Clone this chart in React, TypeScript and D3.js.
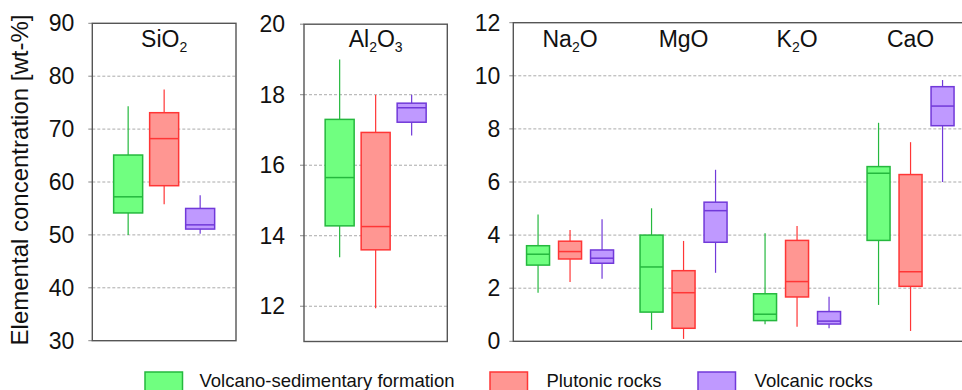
import React from "react";
import * as d3 from "d3";

const seriesNames = ["Volcano-sedimentary formation", "Plutonic rocks", "Volcanic rocks"];
const seriesKeys = ["vs", "pl", "vo"];
const fillColors = ["#70ff80", "#ff9692", "#bf99ff"];
const strokeColors = ["#25b83e", "#ff3636", "#7139d9"];

// [min, q1, median, q3, max] per series
const sio2 = [
  [50.0, 54.15, 57.2, 65.1, 74.3],
  [55.8, 59.3, 68.2, 73.1, 77.5],
  [50.2, 51.1, 51.9, 55.0, 57.5],
];
const al2o3 = [
  [13.39, 14.28, 15.65, 17.3, 19.0],
  [11.94, 13.6, 14.26, 16.93, 18.0],
  [16.84, 17.22, 17.63, 17.76, 18.0],
];
const majorCats = ["Na2O", "MgO", "K2O", "CaO"];
const na2o = [
  [1.83, 2.87, 3.28, 3.6, 4.78],
  [2.23, 3.1, 3.38, 3.77, 4.19],
  [2.36, 2.94, 3.13, 3.44, 4.6],
];
const mgo = [
  [0.43, 1.1, 2.8, 4.0, 5.01],
  [0.09, 0.49, 1.83, 2.66, 3.78],
  [2.58, 3.73, 4.92, 5.24, 6.46],
];
const k2o = [
  [0.64, 0.78, 1.02, 1.79, 4.07],
  [0.55, 1.67, 2.25, 3.8, 4.34],
  [0.49, 0.65, 0.76, 1.12, 1.68],
];
const cao = [
  [1.37, 3.8, 6.33, 6.58, 8.23],
  [0.39, 2.07, 2.62, 6.28, 7.5],
  [6.0, 8.12, 8.86, 9.59, 9.84],
];
const majorData = [na2o, mgo, k2o, cao];

const sio2Ticks = [30, 40, 50, 60, 70, 80, 90];
const al2o3Ticks = [12, 14, 16, 18, 20];
const majorTicks = [0, 2, 4, 6, 8, 10, 12];

const FONT = "Liberation Sans, Arial, Helvetica, sans-serif";
const FRAME = "#555";
const GRID = "#aaa";

type Box = number[];

function BoxMark({ cx, w, y, b, i }: { cx: number; w: number; y: d3.ScaleLinear<number, number>; b: Box; i: number }) {
  const [mn, q1, md, q3, mx] = b;
  return (
    <g>
      <line x1={cx} x2={cx} y1={y(mx)} y2={y(q3)} stroke={strokeColors[i]} strokeWidth={1.2} />
      <line x1={cx} x2={cx} y1={y(q1)} y2={y(mn)} stroke={strokeColors[i]} strokeWidth={1.2} />
      <rect x={cx - w / 2} y={y(q3)} width={w} height={y(q1) - y(q3)} fill={fillColors[i]} stroke={strokeColors[i]} strokeWidth={1.5} />
      <line x1={cx - w / 2} x2={cx + w / 2} y1={y(md)} y2={y(md)} stroke={strokeColors[i]} strokeWidth={1.5} />
    </g>
  );
}

function Frame({ x0, x1, y, ticks, labelGap }: { x0: number; x1: number; y: d3.ScaleLinear<number, number>; ticks: number[]; labelGap: number }) {
  const [d0, d1] = y.domain();
  return (
    <g>
      {ticks.map((t) =>
        t > d0 && t < d1 ? (
          <line key={"g" + t} x1={x0} x2={x1} y1={y(t)} y2={y(t)} stroke={GRID} strokeWidth={1} strokeDasharray="3,2" />
        ) : null
      )}
      {ticks.map((t) => (
        <line key={"t" + t} x1={x0 - 4} x2={x0} y1={y(t)} y2={y(t)} stroke="#888" strokeWidth={1} />
      ))}
      <rect x={x0} y={y(d1)} width={x1 - x0} height={y(d0) - y(d1)} fill="none" stroke={FRAME} strokeWidth={1.4} />
      {ticks.map((t) => (
        <text key={"l" + t} x={x0 - labelGap} y={y(t)} textAnchor="end" dominantBaseline="central" fontSize={23} fontFamily={FONT} fill="#111">
          {t}
        </text>
      ))}
    </g>
  );
}

function Formula({ x, y, parts }: { x: number; y: number; parts: [string, boolean][] }) {
  return (
    <text x={x} y={y} textAnchor="middle" fontSize={23} fontFamily={FONT} fill="#111">
      {parts.map(([s, sub], k) => (
        <tspan key={k} fontSize={sub ? 14 : 23} dy={sub ? 5 : k > 0 && parts[k - 1][1] ? -5 : 0}>
          {s}
        </tspan>
      ))}
    </text>
  );
}

const labelParts: Record<string, [string, boolean][]> = {
  SiO2: [["SiO", false], ["2", true]],
  Al2O3: [["Al", false], ["2", true], ["O", false], ["3", true]],
  Na2O: [["Na", false], ["2", true], ["O", false]],
  MgO: [["MgO", false]],
  K2O: [["K", false], ["2", true], ["O", false]],
  CaO: [["CaO", false]],
};

export default function App() {
  // Panel 1: SiO2
  const p1 = { x0: 92.3, x1: 236 };
  const y1 = d3.scaleLinear().domain([30, 90]).range([340.7, 23.3]);
  const c1 = (p1.x0 + p1.x1) / 2;
  const s1 = d3.scalePoint<string>().domain(seriesKeys).range([c1 - 36, c1 + 36]);

  // Panel 2: Al2O3
  const p2 = { x0: 304, x1: 447.3 };
  const y2 = d3.scaleLinear().domain([11, 20]).range([341.5, 24.2]);
  const c2 = (p2.x0 + p2.x1) / 2;
  const s2 = d3.scalePoint<string>().domain(seriesKeys).range([c2 - 36, c2 + 36]);

  // Panel 3: majors
  const p3 = { x0: 513.3, x1: 967.3 };
  const y3 = d3.scaleLinear().domain([0, 12]).range([341.3, 22.7]);
  const g3 = d3.scaleBand<string>().domain(majorCats).range([p3.x0, p3.x1]);
  const s3 = d3.scalePoint<string>().domain(seriesKeys).range([-32, 32]);

  const legendX = [145, 490, 698];
  const legendTextX = [199.5, 546.4, 754.6];

  return (
    <svg width={962} height={390} style={{ position: "absolute", left: 0, top: 0, background: "#fff" }}>
      <rect x={0} y={0} width={962} height={390} fill="#fff" />
      <text transform="translate(28,180) rotate(-90)" textAnchor="middle" fontSize={24} fontFamily={FONT} fill="#111">
        Elemental concentration [wt-%]
      </text>

      <Frame x0={p1.x0} x1={p1.x1} y={y1} ticks={sio2Ticks} labelGap={18} />
      {sio2.map((b, i) => (
        <BoxMark key={i} cx={s1(seriesKeys[i])!} w={29} y={y1} b={b} i={i} />
      ))}
      <Formula x={c1} y={47} parts={labelParts.SiO2} />

      <Frame x0={p2.x0} x1={p2.x1} y={y2} ticks={al2o3Ticks} labelGap={19} />
      {al2o3.map((b, i) => (
        <BoxMark key={i} cx={s2(seriesKeys[i])!} w={29} y={y2} b={b} i={i} />
      ))}
      <Formula x={c2} y={47} parts={labelParts.Al2O3} />

      <Frame x0={p3.x0} x1={p3.x1} y={y3} ticks={majorTicks} labelGap={13} />
      {majorCats.map((cat, gi) => {
        const gc = g3(cat)! + g3.bandwidth() / 2;
        return (
          <g key={cat}>
            {majorData[gi].map((b, i) => (
              <BoxMark key={i} cx={gc + s3(seriesKeys[i])!} w={23} y={y3} b={b} i={i} />
            ))}
            <Formula x={gc} y={47} parts={labelParts[cat]} />
          </g>
        );
      })}

      {seriesNames.map((n, i) => (
        <g key={n}>
          <rect x={legendX[i]} y={372} width={37.5} height={30} fill={fillColors[i]} stroke={strokeColors[i]} strokeWidth={1.5} />
          <text x={legendTextX[i]} y={387} fontSize={18.5} fontFamily={FONT} fill="#111">
            {n}
          </text>
        </g>
      ))}
    </svg>
  );
}
